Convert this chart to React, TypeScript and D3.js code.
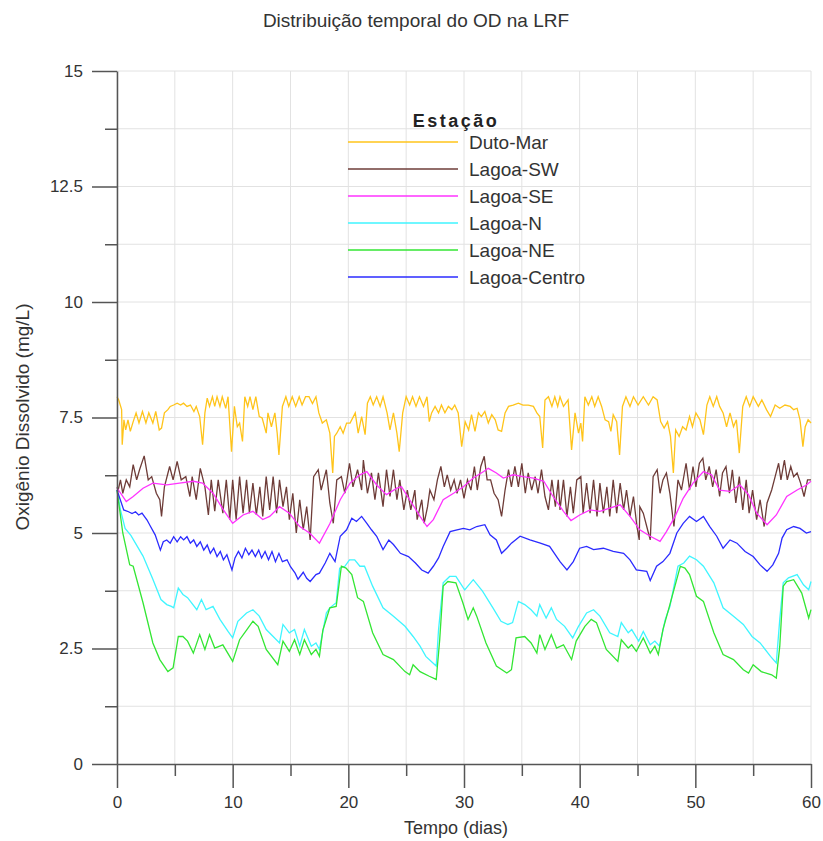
import React, { useEffect, useRef } from 'react';
import * as d3 from 'd3';

type Pt = [number, number];

// axis ticks
const xTicks = [0, 10, 20, 30, 40, 50, 60];
const xMinorTicks = [5, 15, 25, 35, 45, 55];
const yTicks = [0, 2.5, 5, 7.5, 10, 12.5, 15];
const yMinorTicks = [1.25, 3.75, 6.25, 8.75, 11.25, 13.75];

const stations = ['Duto-Mar', 'Lagoa-SW', 'Lagoa-SE', 'Lagoa-N', 'Lagoa-NE', 'Lagoa-Centro'];
const colors = ['#ffc41a', '#6e3c38', '#ff33ff', '#3ff5ff', '#33e633', '#2b2bff'];

// [dia, OD mg/L]
const dutoMar: Pt[] = [
  [0, 7.95], [0.15, 7.88], [0.4, 7.67], [0.45, 6.91], [0.6, 7.45], [0.75, 7.23], [0.95, 7.45], [1.15, 7.2],
  [1.4, 7.41], [1.65, 7.6], [1.9, 7.38], [2.2, 7.63], [2.5, 7.38], [2.75, 7.6], [3.1, 7.38], [3.35, 7.63],
  [3.65, 7.23], [3.85, 7.27], [4.1, 7.6], [4.4, 7.67], [4.6, 7.74], [4.9, 7.77], [5.2, 7.81], [5.5, 7.77],
  [5.75, 7.81], [6.05, 7.74], [6.35, 7.77], [6.65, 7.63], [6.85, 7.74], [7.15, 7.52], [7.4, 6.91], [7.6, 7.6],
  [7.8, 7.92], [8.0, 7.74], [8.25, 7.95], [8.45, 7.74], [8.65, 7.95], [8.9, 7.74], [9.1, 7.95], [9.4, 7.7],
  [9.6, 7.95], [9.9, 6.76], [10.15, 7.74], [10.4, 7.3], [10.6, 7.38], [10.85, 6.98], [11.05, 7.95], [11.3, 7.74],
  [11.5, 7.95], [11.75, 7.67], [12.0, 7.95], [12.3, 7.52], [12.55, 7.49], [12.9, 7.16], [13.05, 7.6], [13.35, 7.3],
  [13.65, 7.6], [13.85, 7.16], [14.0, 6.69], [14.3, 7.74], [14.6, 7.95], [14.85, 7.74], [15.15, 7.95], [15.45, 7.74],
  [15.75, 7.95], [16.0, 7.77], [16.3, 7.95], [16.6, 7.95], [16.9, 7.8], [17.2, 7.95], [17.45, 7.6], [17.75, 7.38],
  [18.1, 7.45], [18.4, 7.16], [18.65, 6.3], [18.8, 7.09], [19.0, 7.16], [19.3, 7.3], [19.55, 7.16], [19.85, 7.38],
  [20.15, 7.38], [20.6, 7.6], [20.85, 7.16], [21.15, 7.52], [21.45, 7.13], [21.65, 7.81], [21.9, 7.95], [22.15, 7.77],
  [22.45, 7.95], [22.75, 7.74], [23.0, 7.95], [23.35, 7.6], [23.6, 7.23], [23.9, 7.6], [24.2, 7.16], [24.4, 6.76],
  [24.7, 7.6], [25.0, 7.95], [25.3, 7.77], [25.55, 7.95], [25.85, 7.74], [26.15, 7.95], [26.5, 7.74], [26.8, 7.95],
  [27.0, 7.41], [27.2, 7.6], [27.5, 7.74], [27.8, 7.6], [28.05, 7.77], [28.35, 7.6], [28.65, 7.74], [28.95, 7.67],
  [29.2, 7.77], [29.5, 7.6], [29.8, 6.87], [30.1, 7.41], [30.4, 7.23], [30.65, 7.56], [30.95, 7.2], [31.25, 7.6],
  [31.5, 7.52], [31.8, 7.63], [32.1, 7.38], [32.4, 7.56], [32.7, 7.45], [32.95, 7.23], [33.25, 7.2], [33.55, 7.6],
  [33.85, 7.74], [34.25, 7.77], [34.7, 7.81], [35.1, 7.77], [35.55, 7.77], [36.0, 7.74], [36.3, 7.6], [36.55, 7.52],
  [36.8, 6.84], [37.0, 7.88], [37.3, 7.95], [37.6, 7.74], [37.85, 7.95], [38.1, 7.74], [38.3, 7.95], [38.6, 7.74],
  [39.0, 7.88], [39.3, 6.8], [39.6, 7.6], [39.9, 7.16], [40.1, 7.38], [40.25, 6.98], [40.45, 7.95], [40.75, 7.77],
  [41.05, 7.95], [41.3, 7.74], [41.6, 7.95], [41.9, 7.74], [42.2, 7.45], [42.5, 7.41], [42.7, 7.2], [42.9, 7.56],
  [43.2, 7.41], [43.45, 6.69], [43.7, 7.74], [44.0, 7.95], [44.35, 7.74], [44.65, 7.95], [45.05, 7.77], [45.5, 7.95],
  [45.95, 7.77], [46.35, 7.95], [46.7, 7.88], [47.0, 7.41], [47.3, 7.27], [47.6, 7.41], [47.85, 7.09], [48.1, 6.3],
  [48.3, 7.23], [48.6, 7.09], [48.9, 7.3], [49.2, 7.23], [49.5, 7.52], [49.75, 7.3], [50.05, 7.6], [50.4, 7.45],
  [50.7, 7.13], [51.0, 7.77], [51.25, 7.95], [51.55, 7.74], [51.85, 7.95], [52.1, 7.74], [52.4, 7.6], [52.7, 7.3],
  [53.0, 7.6], [53.3, 7.3], [53.55, 7.45], [53.8, 6.73], [54.1, 7.74], [54.4, 7.95], [54.7, 7.74], [55.0, 7.95],
  [55.45, 7.74], [55.75, 7.88], [56.15, 7.67], [56.5, 7.52], [56.9, 7.77], [57.3, 7.7], [57.75, 7.77], [58.2, 7.74],
  [58.5, 7.67], [58.8, 7.7], [59.05, 7.45], [59.3, 6.87], [59.5, 7.3], [59.75, 7.45], [60, 7.38],
];

const lagoaSW: Pt[] = [
  [0, 5.99], [0.1, 5.93], [0.3, 6.15], [0.5, 5.86], [0.8, 6.15], [1.1, 6.0], [1.4, 6.48], [1.7, 6.15],
  [1.95, 6.37], [2.35, 6.67], [2.7, 6.15], [3.0, 6.22], [3.4, 5.86], [3.7, 5.72], [3.85, 5.36], [4.1, 6.0],
  [4.55, 6.44], [4.85, 6.15], [5.2, 6.55], [5.55, 6.15], [5.95, 6.22], [6.3, 5.79], [6.5, 6.22], [6.85, 5.72],
  [7.2, 6.4], [7.6, 6.0], [7.9, 5.39], [8.15, 6.15], [8.45, 5.47], [8.75, 6.15], [9.15, 5.43], [9.45, 6.15],
  [9.75, 5.29], [10.0, 6.15], [10.3, 5.29], [10.6, 6.22], [10.9, 5.43], [11.2, 6.15], [11.45, 5.43], [11.75, 6.08],
  [12.05, 5.39], [12.35, 6.0], [12.6, 5.36], [12.9, 6.22], [13.2, 5.5], [13.5, 6.22], [13.8, 5.43], [14.05, 6.15],
  [14.35, 5.57], [14.65, 6.0], [14.9, 5.29], [15.2, 5.86], [15.5, 5.0], [15.8, 5.72], [16.1, 5.07], [16.4, 5.57],
  [16.7, 4.85], [17.0, 6.22], [17.4, 6.37], [17.65, 5.93], [18.1, 6.37], [18.4, 5.65], [18.7, 5.21], [19.0, 6.15],
  [19.4, 6.22], [19.7, 5.86], [20.1, 6.51], [20.4, 6.0], [20.8, 6.37], [21.15, 5.93], [21.3, 6.58], [21.65, 5.86],
  [22.0, 6.3], [22.3, 5.72], [22.6, 6.3], [23.0, 5.57], [23.3, 6.37], [23.6, 5.79], [23.9, 6.37], [24.2, 5.72],
  [24.45, 6.15], [24.8, 5.5], [25.1, 5.93], [25.4, 5.5], [25.75, 5.93], [25.95, 5.29], [26.35, 5.72], [26.55, 5.21],
  [26.85, 5.57], [27.05, 5.93], [27.4, 5.72], [27.7, 6.15], [28.0, 6.44], [28.3, 6.0], [28.55, 6.26], [28.85, 5.93],
  [29.15, 6.15], [29.4, 5.86], [29.7, 6.15], [30.0, 5.75], [30.3, 6.15], [30.6, 5.93], [30.9, 6.44], [31.15, 5.93],
  [31.45, 6.44], [31.75, 6.66], [32.0, 6.15], [32.3, 6.15], [32.6, 5.86], [32.95, 5.72], [33.25, 5.36], [33.55, 5.93],
  [33.85, 6.37], [34.1, 6.0], [34.4, 6.44], [34.7, 6.0], [35.0, 6.51], [35.3, 5.86], [35.55, 6.3], [35.85, 5.93],
  [36.15, 6.22], [36.4, 5.86], [36.7, 6.37], [37.0, 5.79], [37.3, 5.5], [37.6, 6.15], [37.9, 5.57], [38.15, 6.15],
  [38.3, 5.5], [38.6, 6.15], [38.9, 5.36], [39.2, 6.0], [39.45, 5.43], [39.75, 6.15], [40.1, 6.22], [40.3, 5.43],
  [40.6, 6.08], [40.9, 5.43], [41.2, 6.15], [41.5, 5.36], [41.75, 6.08], [42.05, 5.43], [42.35, 6.0], [42.6, 5.36],
  [42.9, 6.15], [43.2, 5.43], [43.5, 6.08], [43.8, 5.5], [44.05, 5.93], [44.35, 5.36], [44.65, 5.79], [44.95, 5.14],
  [45.15, 4.85], [45.2, 5.57], [45.5, 5.43], [45.8, 5.14], [46.1, 4.85], [46.35, 6.22], [46.7, 6.37], [46.95, 5.86],
  [47.2, 6.15], [47.5, 6.3], [47.8, 5.86], [48.15, 5.14], [48.5, 6.15], [48.8, 5.93], [49.2, 6.51], [49.5, 5.93],
  [49.8, 6.44], [50.05, 6.0], [50.35, 6.51], [50.65, 6.62], [50.9, 6.15], [51.2, 6.44], [51.5, 6.0], [51.8, 6.37],
  [52.1, 5.79], [52.35, 6.3], [52.65, 6.44], [52.95, 5.86], [53.2, 6.37], [53.5, 5.65], [53.8, 6.22], [54.1, 5.5],
  [54.4, 6.15], [54.65, 5.43], [54.95, 5.93], [55.3, 5.29], [55.6, 5.72], [55.95, 5.14], [56.2, 5.65], [56.6, 5.93],
  [56.9, 6.22], [57.2, 6.51], [57.4, 6.15], [57.7, 6.58], [57.95, 6.15], [58.25, 6.44], [58.5, 6.22], [58.8, 6.3],
  [59.1, 6.08], [59.4, 5.79], [59.7, 6.15], [60, 6.15],
];

const lagoaSE: Pt[] = [
  [0, 5.97], [0.4, 5.83], [0.8, 5.68], [1.4, 5.79], [2.25, 5.97], [3.1, 6.08], [4.3, 6.04], [5.4, 6.08],
  [6.6, 6.12], [7.4, 6.08], [8.3, 5.86], [9.2, 5.5], [10.0, 5.21], [10.9, 5.39], [11.75, 5.47], [12.6, 5.29],
  [13.2, 5.36], [14.05, 5.57], [14.9, 5.43], [15.8, 5.14], [16.65, 5.0], [17.5, 4.78], [18.4, 5.2], [19.3, 5.72],
  [20.15, 6.08], [21.0, 6.26], [21.6, 6.33], [22.45, 6.04], [23.3, 5.83], [24.2, 5.97], [24.6, 6.0], [25.3, 5.72],
  [26.2, 5.36], [26.8, 5.14], [27.35, 5.29], [28.2, 5.72], [29.1, 5.86], [29.95, 6.0], [30.8, 6.19], [31.7, 6.33],
  [32.1, 6.4], [32.8, 6.3], [33.4, 6.19], [34.25, 6.26], [35.1, 6.22], [36.0, 6.19], [36.9, 6.12], [37.7, 5.79],
  [38.6, 5.47], [39.25, 5.27], [40.0, 5.39], [40.9, 5.5], [41.75, 5.47], [42.6, 5.54], [43.5, 5.61], [44.35, 5.36],
  [45.2, 5.07], [46.1, 4.93], [46.95, 4.82], [47.5, 5.03], [48.25, 5.36], [48.95, 5.75], [49.8, 6.08], [50.7, 6.33],
  [51.4, 6.26], [52.1, 5.93], [53.0, 5.9], [53.85, 6.04], [54.6, 5.83], [55.3, 5.43], [56.2, 5.18], [57.0, 5.39],
  [57.9, 5.79], [58.8, 5.93], [59.6, 6.04], [60, 6.12],
];

const lagoaN: Pt[] = [
  [0, 5.93], [0.3, 5.5], [0.7, 5.1], [1.2, 4.95], [2.25, 4.5], [3.1, 4.0], [3.8, 3.56], [4.3, 3.45],
  [4.7, 3.41], [4.9, 3.38], [5.3, 3.81], [5.7, 3.67], [6.1, 3.6], [6.9, 3.34], [7.3, 3.56], [7.7, 3.34],
  [8.3, 3.41], [8.9, 3.13], [9.6, 2.87], [10.0, 2.73], [10.45, 3.09], [11.2, 3.27], [11.75, 3.34], [12.3, 3.2],
  [12.9, 2.91], [13.5, 2.76], [14.05, 2.62], [14.35, 3.02], [14.9, 2.84], [15.35, 2.91], [15.8, 2.55], [16.2, 2.91],
  [16.8, 2.55], [17.2, 2.62], [17.5, 2.48], [18.1, 3.27], [18.4, 3.38], [18.95, 3.49], [19.25, 4.24], [19.7, 4.28],
  [20.1, 4.42], [20.55, 4.42], [21.0, 4.28], [21.4, 4.28], [22.1, 3.85], [23.0, 3.38], [23.9, 3.2], [24.9, 2.98],
  [25.6, 2.76], [26.2, 2.55], [26.7, 2.33], [27.6, 2.12], [27.8, 2.91], [28.2, 3.92], [28.76, 4.06], [29.3, 4.06],
  [30.06, 3.77], [30.8, 3.99], [31.6, 3.74], [32.5, 3.38], [33.2, 3.09], [33.8, 3.02], [34.2, 3.06], [34.7, 3.52],
  [35.25, 3.45], [35.8, 3.34], [36.3, 3.2], [36.55, 3.45], [37.1, 3.16], [37.55, 3.38], [38.0, 3.13], [38.7, 2.98],
  [39.4, 2.73], [39.9, 2.98], [40.6, 3.27], [41.2, 3.34], [41.75, 3.2], [42.6, 2.84], [43.3, 2.76], [43.6, 3.06],
  [44.2, 2.84], [44.5, 2.91], [45.1, 2.66], [45.5, 2.87], [46.1, 2.58], [46.5, 2.66], [46.9, 2.55], [47.4, 3.13],
  [47.8, 3.41], [48.5, 4.28], [49.0, 4.35], [49.5, 4.5], [50.1, 4.42], [50.7, 4.28], [51.6, 3.92], [52.4, 3.38],
  [53.3, 3.2], [54.15, 3.02], [54.9, 2.76], [55.6, 2.62], [56.5, 2.33], [57.0, 2.19], [57.3, 3.13], [57.6, 3.92],
  [58.05, 4.03], [58.8, 4.1], [59.35, 3.88], [59.8, 3.77], [60, 3.95],
];

const lagoaNE: Pt[] = [
  [0, 5.93], [0.5, 5.0], [1.1, 4.31], [1.4, 4.28], [2.25, 3.49], [3.1, 2.62], [3.7, 2.26], [4.4, 2.0],
  [4.85, 2.08], [5.3, 2.76], [5.7, 2.76], [6.1, 2.66], [6.6, 2.4], [7.15, 2.8], [7.6, 2.48], [8.0, 2.8],
  [8.45, 2.51], [9.15, 2.58], [10.0, 2.22], [10.6, 2.69], [11.2, 2.9], [11.75, 3.09], [12.2, 2.98], [12.9, 2.48],
  [13.9, 2.15], [14.35, 2.66], [14.9, 2.44], [15.35, 2.69], [15.8, 2.37], [16.2, 2.69], [16.8, 2.37], [17.2, 2.48],
  [17.5, 2.33], [17.8, 2.9], [18.4, 3.38], [18.95, 3.41], [19.4, 4.28], [19.8, 4.24], [20.3, 4.1], [20.8, 3.6],
  [21.3, 3.52], [22.1, 2.84], [23.0, 2.37], [23.9, 2.26], [24.9, 2.0], [25.3, 1.93], [25.6, 2.15], [26.2, 2.0],
  [27.0, 1.9], [27.6, 1.83], [27.9, 2.69], [28.2, 3.85], [28.6, 3.95], [29.3, 3.92], [29.9, 3.49], [30.35, 3.13],
  [30.8, 3.38], [31.1, 3.2], [31.9, 2.62], [32.8, 2.12], [33.7, 1.97], [34.1, 2.04], [34.5, 2.73], [35.25, 2.76],
  [35.8, 2.62], [36.3, 2.4], [36.55, 2.8], [37.0, 2.48], [37.55, 2.8], [38.0, 2.51], [38.6, 2.58], [39.3, 2.26],
  [39.7, 2.66], [40.45, 2.98], [41.0, 3.13], [41.45, 3.06], [42.3, 2.48], [43.3, 2.22], [43.6, 2.69], [44.2, 2.51],
  [44.5, 2.58], [44.9, 2.44], [45.5, 2.73], [46.1, 2.4], [46.5, 2.55], [46.8, 2.37], [47.2, 2.91], [47.8, 3.45],
  [48.7, 4.28], [49.1, 4.24], [49.5, 4.1], [50.1, 3.63], [50.7, 3.52], [51.6, 2.84], [52.4, 2.37], [53.3, 2.26],
  [54.15, 2.04], [54.6, 1.97], [55.0, 2.15], [55.7, 2.0], [56.6, 1.93], [57.0, 1.86], [57.3, 2.55], [57.6, 3.85],
  [57.9, 3.95], [58.5, 3.99], [59.2, 3.7], [59.8, 3.16], [60, 3.34],
];

const lagoaCentro: Pt[] = [
  [0, 5.93], [0.58, 5.5], [1.0, 5.46], [1.3, 5.42], [1.6, 5.46], [1.87, 5.39], [2.16, 5.43], [2.6, 5.28],
  [2.9, 5.14], [3.3, 4.96], [3.75, 4.63], [4.0, 4.81], [4.3, 4.85], [4.6, 4.78], [4.9, 4.92], [5.2, 4.81],
  [5.5, 4.92], [5.76, 4.85], [6.05, 4.92], [6.34, 4.78], [6.63, 4.85], [6.9, 4.71], [7.2, 4.81], [7.5, 4.63],
  [7.8, 4.74], [8.07, 4.56], [8.36, 4.67], [8.65, 4.49], [8.93, 4.6], [9.2, 4.42], [9.5, 4.53], [9.94, 4.2],
  [10.2, 4.46], [10.5, 4.6], [10.8, 4.46], [11.1, 4.67], [11.4, 4.53], [11.67, 4.63], [11.96, 4.49], [12.25, 4.63],
  [12.5, 4.46], [12.8, 4.6], [13.1, 4.42], [13.4, 4.6], [13.7, 4.38], [14.0, 4.56], [14.3, 4.38], [14.7, 4.42],
  [15.0, 4.27], [15.4, 4.13], [15.65, 4.0], [16.1, 4.15], [16.4, 4.02], [16.7, 3.95], [17.2, 4.1], [17.5, 4.13],
  [18.0, 4.35], [18.4, 4.56], [18.85, 4.38], [19.3, 4.93], [19.85, 5.07], [20.3, 5.32], [20.7, 5.25], [21.15, 5.36],
  [21.6, 5.21], [22.0, 5.07], [22.45, 4.93], [23.0, 4.64], [23.5, 4.85], [23.9, 4.75], [24.5, 4.56], [25.2, 4.49],
  [25.8, 4.35], [26.35, 4.2], [26.9, 4.13], [27.35, 4.28], [27.8, 4.46], [28.2, 4.71], [28.8, 5.03], [29.4, 5.07],
  [29.95, 5.1], [30.5, 5.07], [31.1, 5.14], [31.8, 5.18], [32.25, 4.96], [32.8, 4.85], [33.25, 4.56], [33.7, 4.67],
  [34.1, 4.78], [34.85, 4.93], [35.7, 4.85], [36.6, 4.78], [37.4, 4.71], [38.3, 4.38], [38.9, 4.2], [39.45, 4.38],
  [40.0, 4.67], [40.6, 4.71], [41.2, 4.64], [42.05, 4.67], [42.9, 4.6], [43.8, 4.56], [44.35, 4.42], [44.9, 4.2],
  [45.8, 4.17], [46.1, 3.97], [46.65, 4.28], [47.2, 4.38], [47.8, 4.56], [48.4, 5.0], [48.95, 5.21], [49.5, 5.36],
  [50.1, 5.25], [50.7, 5.36], [51.25, 5.14], [51.85, 4.93], [52.4, 4.67], [53.0, 4.85], [53.6, 4.78], [54.3, 4.6],
  [55.0, 4.49], [55.6, 4.31], [56.2, 4.17], [56.7, 4.31], [57.2, 4.56], [57.5, 4.89], [57.9, 5.07], [58.5, 5.14],
  [59.05, 5.1], [59.6, 5.0], [60, 5.03],
];

const seriesData = [dutoMar, lagoaSW, lagoaSE, lagoaN, lagoaNE, lagoaCentro];

const W = 823;
const H = 841;
const FONT = '"Liberation Sans", Arial, sans-serif';

const App: React.FC = () => {
  const ref = useRef<SVGSVGElement>(null);

  useEffect(() => {
    const svg = d3.select(ref.current);
    svg.selectAll('*').remove();

    const margin = { top: 71, right: 12, bottom: 77, left: 117 };
    const x = d3.scaleLinear().domain([0, 60]).range([margin.left, W - margin.right]);
    const y = d3.scaleLinear().domain([0, 15]).range([H - margin.bottom, margin.top]);

    // grid
    const grid = svg.append('g');
    grid.selectAll('line.v')
      .data(d3.range(0, 61, 5))
      .join('line')
      .attr('x1', d => x(d)).attr('x2', d => x(d))
      .attr('y1', y(0)).attr('y2', y(15))
      .attr('stroke', '#e2e2e2');
    grid.selectAll('line.h')
      .data(d3.range(1, 13).map(i => i * 1.25))
      .join('line')
      .attr('x1', x(0)).attr('x2', x(60))
      .attr('y1', d => y(d)).attr('y2', d => y(d))
      .attr('stroke', '#e2e2e2');

    // series
    const line = d3.line<Pt>().x(d => x(d[0])).y(d => y(d[1]));
    seriesData.forEach((data, i) => {
      svg.append('path')
        .datum(data)
        .attr('d', line)
        .attr('fill', 'none')
        .attr('stroke', colors[i])
        .attr('stroke-width', 1.3);
    });

    // axes
    const axisColor = '#555';
    const yAxis = svg.append('g')
      .attr('transform', `translate(${x(0)},0)`)
      .call(d3.axisLeft(y).tickValues(yTicks).tickSize(25).tickSizeOuter(0).tickPadding(9).tickFormat(d => String(d)));
    svg.append('g')
      .attr('transform', `translate(${x(0)},0)`)
      .call(d3.axisLeft(y).tickValues(yMinorTicks).tickSize(12).tickFormat(() => ''))
      .call(g => g.select('.domain').remove());

    const xAxis = svg.append('g')
      .attr('transform', `translate(0,${y(0)})`)
      .call(d3.axisBottom(x).tickValues(xTicks).tickSize(24).tickSizeOuter(0).tickPadding(8).tickFormat(d => String(d)));
    svg.append('g')
      .attr('transform', `translate(0,${y(0)})`)
      .call(d3.axisBottom(x).tickValues(xMinorTicks).tickSize(12).tickFormat(() => ''))
      .call(g => g.select('.domain').remove());

    svg.selectAll('.domain, .tick line').attr('stroke', axisColor).attr('stroke-width', 1.5);
    [yAxis, xAxis].forEach(g => g.selectAll('text')
      .attr('fill', '#333')
      .style('font-family', FONT)
      .style('font-size', '17px'));

    // titles
    svg.append('text')
      .attr('x', 416).attr('y', 27)
      .attr('text-anchor', 'middle')
      .style('font-family', FONT).style('font-size', '19px').attr('fill', '#333')
      .text('Distribuição temporal do OD na LRF');
    svg.append('text')
      .attr('x', 456).attr('y', 834)
      .attr('text-anchor', 'middle')
      .style('font-family', FONT).style('font-size', '18px').attr('fill', '#333')
      .text('Tempo (dias)');
    svg.append('text')
      .attr('transform', `translate(29,417) rotate(-90)`)
      .attr('text-anchor', 'middle')
      .style('font-family', FONT).style('font-size', '19px').attr('fill', '#333')
      .text('Oxigênio Dissolvido (mg/L)');

    // legend
    const legend = svg.append('g');
    legend.append('text')
      .attr('x', 456).attr('y', 127)
      .attr('text-anchor', 'middle')
      .style('font-family', FONT).style('font-size', '18px').style('font-weight', 'bold')
      .style('letter-spacing', '2.5px')
      .attr('fill', '#222')
      .text('Estação');
    stations.forEach((s, i) => {
      const ly = 142 + i * 27;
      legend.append('line')
        .attr('x1', 348).attr('x2', 458)
        .attr('y1', ly).attr('y2', ly)
        .attr('stroke', colors[i]).attr('stroke-width', 1.5);
      legend.append('text')
        .attr('x', 469).attr('y', ly).attr('dy', '0.35em')
        .style('font-family', FONT).style('font-size', '19px')
        .attr('fill', '#333')
        .text(s);
    });
  }, []);

  return (
    <div style={{ position: 'absolute', left: 0, top: 0 }}>
      <svg ref={ref} width={W} height={H} style={{ display: 'block', background: '#fff' }} />
    </div>
  );
};

export default App;
